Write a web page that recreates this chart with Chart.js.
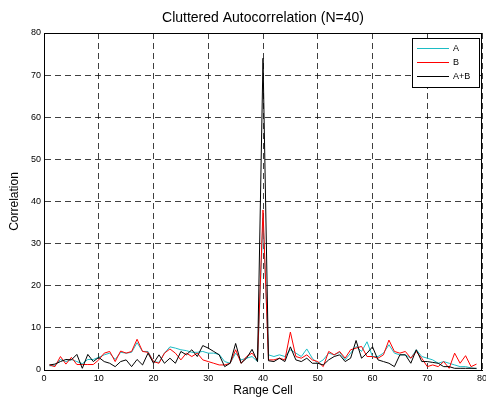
<!DOCTYPE html>
<html>
<head>
<meta charset="utf-8">
<script src="https://cdn.jsdelivr.net/npm/chart.js@4/dist/chart.umd.min.js"></script>
<style>
  html, body { margin: 0; padding: 0; background: #fff; }
  #wrap { width: 486px; height: 400px; }
</style>
</head>
<body>
<div id="wrap"><canvas id="corrChart" width="486" height="400"></canvas></div>
<script>
// range cells 1..79
const rangeCells = [];
for (let i = 1; i <= 79; i++) rangeCells.push(i);

const seriesA = [1.0, 1.0, 2.5, 2.0, 2.5, 2.0, 1.5, 2.5, 2.5, 3.0,
    3.6, 4.0, 2.5, 4.2, 4.0, 4.2, 6.5, 4.4, 4.4, 2.0,
    1.8, 4.0, 5.5, 5.2, 4.8, 4.6, 4.2, 4.2, 4.4, 4.0,
    4.0, 3.7, 2.0, 1.6, 4.0, 2.4, 2.8, 3.2, 2.0, 36,
    3.6, 3.2, 3.6, 3.2, 4.8, 4.0, 3.2, 5.0, 2.8, 1.6,
    2.4, 4.0, 3.6, 4.2, 2.4, 4.0, 5.6, 4.4, 6.7, 3.2,
    3.2, 4.0, 6.0, 4.0, 3.6, 3.6, 2.8, 4.8, 3.2, 2.8,
    2.4, 1.6, 2.0, 1.6, 1.2, 0.8, 0.8, 0.5, 0.3];

const seriesB = [1.2, 0.8, 3.2, 1.4, 3.0, 1.3, 1.3, 1.3, 1.3, 2.4,
    4.0, 4.4, 2.0, 4.5, 4.0, 4.4, 7.3, 4.4, 4.2, 2.0,
    1.6, 4.0, 5.0, 4.0, 2.4, 4.0, 3.2, 4.0, 2.4, 2.0,
    1.6, 1.2, 1.2, 1.6, 4.8, 1.6, 3.2, 4.0, 2.4, 38,
    2.4, 2.4, 2.8, 2.4, 9.0, 3.2, 2.8, 3.6, 2.4, 2.0,
    0.8, 4.4, 3.6, 4.4, 2.8, 4.8, 5.2, 5.6, 3.2, 3.2,
    2.8, 3.6, 7.1, 4.4, 4.0, 4.4, 2.8, 4.4, 2.8, 0.8,
    1.2, 0.8, 2.0, 0.4, 4.0, 1.6, 3.4, 0.8, 1.4];

const seriesAB = [1.2, 1.4, 2.0, 2.5, 2.4, 3.7, 0.4, 3.7, 2.0, 3.0,
    2.0, 1.6, 0.8, 2.0, 2.4, 0.8, 2.5, 1.2, 4.0, 1.6,
    3.6, 1.6, 2.8, 1.6, 4.4, 3.6, 4.8, 3.2, 5.8, 5.2,
    4.4, 3.6, 0.8, 1.6, 6.3, 1.6, 2.8, 4.9, 2.0, 74,
    2.2, 2.0, 2.8, 2.0, 5.5, 2.4, 2.0, 2.8, 1.6, 1.6,
    1.2, 2.4, 3.2, 3.6, 2.0, 2.8, 7.0, 2.8, 4.0, 5.5,
    2.4, 2.0, 1.6, 0.8, 3.6, 3.6, 1.6, 4.8, 2.0, 2.0,
    1.8, 1.6, 0.8, 0.8, 0.4, 0.4, 0.4, 0.4, 0.4];

const seriesLabels = ['A', 'B', 'A+B'];
const seriesColors = ['#1cbcc4', '#ff0000', '#000000'];

function toPoints(values) {
    return values.map((v, i) => ({ x: rangeCells[i], y: v }));
}

// box round the plot plus the legend in the upper right corner
const matlabFrame = {
    id: 'matlabFrame',
    afterDraw(chart) {
        const ctx = chart.ctx;
        const a = chart.chartArea;
        ctx.save();
        ctx.strokeStyle = '#000';
        ctx.lineWidth = 1;
        ctx.strokeRect(Math.round(a.left) + 0.5, Math.round(a.top) + 0.5,
            Math.round(a.right - a.left) - 1, Math.round(a.bottom - a.top));

        // legend box
        const bx = 412, by = 38, bw = 67, bh = 49;
        ctx.fillStyle = '#fff';
        ctx.fillRect(bx, by, bw, bh);
        ctx.strokeRect(bx + 0.5, by + 0.5, bw, bh);
        ctx.font = '9px "Liberation Sans", Arial, sans-serif';
        ctx.textBaseline = 'middle';
        ctx.textAlign = 'left';
        const rows = [48.5, 62.5, 76.5];
        chart.data.datasets.forEach((ds, i) => {
            ctx.strokeStyle = ds.borderColor;
            ctx.beginPath();
            ctx.moveTo(417, rows[i]);
            ctx.lineTo(449, rows[i]);
            ctx.stroke();
            ctx.fillStyle = '#000';
            ctx.fillText(ds.label, 453, rows[i] + 0.5);
        });
        ctx.restore();
    }
};

const ctx = document.getElementById('corrChart').getContext('2d');
const chart = new Chart(ctx, {
    type: 'line',
    data: {
        datasets: [
            { label: seriesLabels[0], data: toPoints(seriesA), borderColor: seriesColors[0], order: 2 },
            { label: seriesLabels[1], data: toPoints(seriesB), borderColor: seriesColors[1], order: 1 },
            { label: seriesLabels[2], data: toPoints(seriesAB), borderColor: seriesColors[2], order: 0 }
        ]
    },
    options: {
        responsive: false,
        animation: false,
        layout: { padding: { top: 0, right: 4, bottom: 0, left: 0 } },
        elements: {
            line: { borderWidth: 1, tension: 0, fill: false },
            point: { radius: 0 }
        },
        plugins: {
            legend: { display: false },
            tooltip: { enabled: false },
            title: {
                display: true,
                text: 'Cluttered Autocorrelation (N=40)',
                color: '#000',
                fullSize: false,
                font: { family: '"Liberation Sans", Arial, sans-serif', size: 14, weight: 'normal' },
                padding: { top: 10, bottom: 6.2 }
            }
        },
        scales: {
            x: {
                type: 'linear',
                min: 0,
                max: 80,
                ticks: {
                    stepSize: 10,
                    color: '#000',
                    padding: 3,
                    maxRotation: 0,
                    font: { family: '"Liberation Sans", Arial, sans-serif', size: 9 }
                },
                grid: { color: 'rgba(0,0,0,0.75)', drawTicks: false, lineWidth: 1 },
                border: { display: true, color: '#000', dash: [6, 4] },
                title: {
                    display: true,
                    text: 'Range Cell',
                    color: '#000',
                    font: { family: '"Liberation Sans", Arial, sans-serif', size: 12 },
                    padding: { top: 0, bottom: 1.8 }
                },
                afterFit(scale) {
                    scale.height = 30;
                    scale.paddingLeft = 0;
                    scale.paddingRight = 0;
                }
            },
            y: {
                min: 0,
                max: 80,
                ticks: {
                    stepSize: 10,
                    color: '#000',
                    padding: 3,
                    font: { family: '"Liberation Sans", Arial, sans-serif', size: 9 }
                },
                grid: { color: 'rgba(0,0,0,0.75)', drawTicks: false, lineWidth: 1 },
                border: { display: true, color: '#000', dash: [6, 4] },
                title: {
                    display: true,
                    text: 'Correlation',
                    color: '#000',
                    font: { family: '"Liberation Sans", Arial, sans-serif', size: 12 },
                    padding: { top: 7, bottom: 0 }
                },
                afterFit(scale) {
                    scale.width = 44;
                    scale.paddingTop = 0;
                    scale.paddingBottom = 0;
                }
            }
        }
    },
    plugins: [matlabFrame]
});
</script>
</body>
</html>
